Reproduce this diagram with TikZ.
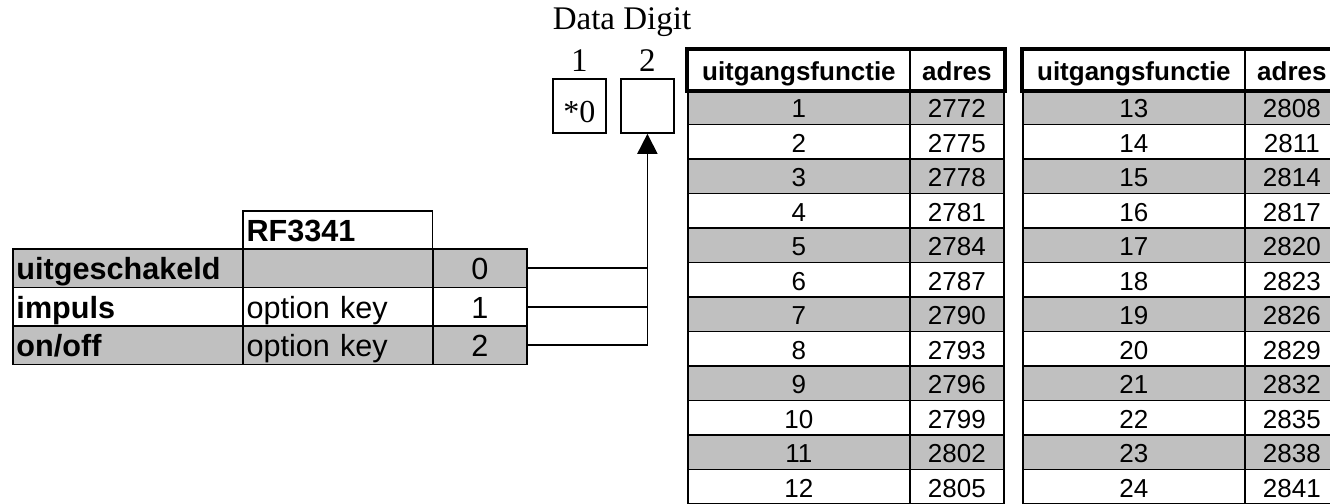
\documentclass[tikz,border=0pt]{standalone}
\usepackage{fontspec}
\setmainfont{Liberation Sans}
\newfontfamily\timesfont{Liberation Serif}
\usepackage{tikz}
\usetikzlibrary{arrows.meta,positioning}
\definecolor{rowgray}{HTML}{C0C0C0}

\begin{document}
\begin{tikzpicture}[x=0.5pt,y=-0.5pt,
    every node/.style={inner sep=0pt},
    lcell/.style={draw,line width=0.9pt,anchor=north west,inner xsep=1.8pt,
      minimum height=19.25pt,text height=11.4pt,text depth=0pt,
      font=\fontsize{15.3}{18}\selectfont},
    rcell/.style={draw,line width=0.9pt,anchor=north west,inner xsep=2pt,
      minimum height=17.25pt,text height=10.5pt,text depth=0pt,align=center,
      font=\fontsize{13}{15}\selectfont},
    digitbox/.style={draw,line width=0.9pt,anchor=north west,minimum width=26.5pt,
      minimum height=27pt,text height=17pt,text depth=0pt,
      font=\timesfont\fontsize{16}{18}\selectfont},
    serif/.style={font=\timesfont\fontsize{16.5}{18}\selectfont},
    line/.style={line width=0.9pt}]
  \useasboundingbox (0,0) rectangle (1330,504);

  \node[lcell,text width=91.2pt,align=left] (rfhead) at (242,210) {\textbf{RF3341}};
  \foreach \i/\name/\opt/\val/\shade in {0/uitgeschakeld//0/rowgray,
      1/impuls/option key/1/white,2/{on/off}/option key/2/rowgray} {
    \node[lcell,fill=\shade,text width=111.4pt,align=left] (name\i) at (12,{248+38.5*\i}) {\textbf{\name}};
    \node[lcell,fill=\shade,text width=91.4pt,align=left] (opt\i) at (242,{248+38.5*\i}) {\opt};
    \node[lcell,fill=\shade,text width=43.4pt,align=center] (val\i) at (432,{248+38.5*\i}) {\val};
  }

  \node[serif] (datadigit) at (622,22) {Data Digit};
  \node[digitbox] (digit1) at (552,78) {*0};
  \node[digitbox] (digit2) at (620,78) {};
  \node[serif,above=3pt of digit1] (lab1) {1};
  \node[serif,above=3pt of digit2] (lab2) {2};

  \draw[line] (val0.east) -- (val0.east -| digit2.south);
  \draw[line] (val1.east) -- (val1.east -| digit2.south);
  \draw[line,-{Triangle[length=10pt,width=10pt]}] (val2.east) -| (digit2.south);

  \foreach \t/\xo in {1/687,2/1022} {
    \node[rcell,text width=107pt,minimum height=20pt] (func\t) at (\xo,49) {\textbf{uitgangsfunctie}};
    \node[rcell,text width=43pt,minimum height=20pt] (adres\t) at ({\xo+222},49) {\textbf{adres}};
    \foreach \k in {1,...,12} {
      \pgfmathtruncatemacro\num{\k+12*(\t-1)}
      \pgfmathtruncatemacro\adr{2772+3*(\num-1)}
      \ifodd\k \def\shade{rowgray}\else \def\shade{white}\fi
      \node[rcell,fill=\shade,text width=107pt] (f\t-\k) at (\xo,{89+34.5*(\k-1)}) {\num};
      \node[rcell,fill=\shade,text width=43pt] (a\t-\k) at ({\xo+222},{89+34.5*(\k-1)}) {\adr};
    }
    \draw[line width=2pt] (func\t.north west) rectangle (adres\t.south east);
  }
\end{tikzpicture}
\end{document}
